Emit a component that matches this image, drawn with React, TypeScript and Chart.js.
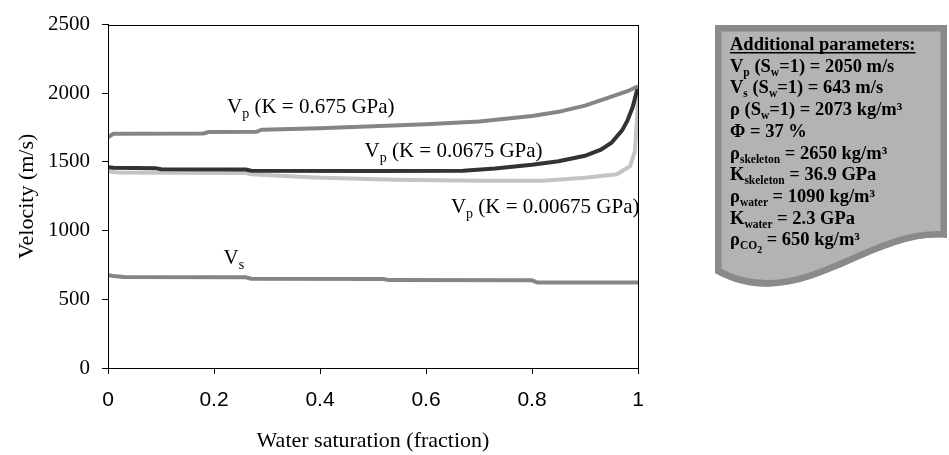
import React, { useEffect, useRef } from "react";
import { Chart, registerables } from "chart.js";

Chart.register(...registerables);

// ---- data (water saturation fraction, velocity m/s) ----
const swVpK0675 = [0, 0.01, 0.18, 0.19, 0.28, 0.29, 0.4, 0.5, 0.6, 0.7, 0.8, 0.85, 0.9, 0.95, 0.98, 1];
const vpK0675 = [1680, 1705, 1707, 1718, 1720, 1735, 1745, 1760, 1775, 1795, 1835, 1865, 1910, 1975, 2015, 2050];

const swVpK00675 = [0, 0.01, 0.09, 0.1, 0.26, 0.27, 0.5, 0.67, 0.73, 0.8, 0.85, 0.9, 0.93, 0.95, 0.97, 0.98, 0.99, 1];
const vpK00675 = [1462, 1458, 1455, 1447, 1445, 1436, 1435, 1436, 1452, 1480, 1505, 1545, 1590, 1640, 1730, 1800, 1900, 2050];

const swVpK000675 = [0, 0.02, 0.1, 0.26, 0.27, 0.39, 0.54, 0.7, 0.82, 0.9, 0.96, 0.985, 0.994, 0.999, 1];
const vpK000675 = [1430, 1424, 1422, 1420, 1410, 1387, 1370, 1363, 1363, 1385, 1410, 1470, 1576, 1861, 2050];

const swVs = [0, 0.01, 0.03, 0.26, 0.27, 0.52, 0.53, 0.8, 0.81, 1];
const vs = [675, 670, 662, 660, 650, 648, 640, 638, 622, 622];

const yTicks = [0, 500, 1000, 1500, 2000, 2500];
const xTicks = [0, 0.2, 0.4, 0.6, 0.8, 1];

// curve labels (anchored in data coordinates)
const labelSub = ["p", "p", "p", "s"];
const labelRest = [" (K = 0.675 GPa)", " (K = 0.0675 GPa)", " (K = 0.00675 GPa)", ""];
const labelSw = [0.2245, 0.484, 0.647, 0.218];
const labelVel = [1859, 1538, 1132, 755];

// parameter box text: [text, kind] where n = normal, s = subscript, ss = sub-subscript
const paramTitle = "Additional parameters:";
const paramLines: [string, string][][] = [
  [["V", "n"], ["p", "s"], [" (S", "n"], ["w", "s"], ["=1) = 2050 m/s", "n"]],
  [["V", "n"], ["s", "s"], [" (S", "n"], ["w", "s"], ["=1) = 643 m/s", "n"]],
  [["ρ (S", "n"], ["w", "s"], ["=1) = 2073 kg/m³", "n"]],
  [["Φ = 37 %", "n"]],
  [["ρ", "n"], ["skeleton", "s"], [" = 2650 kg/m³", "n"]],
  [["K", "n"], ["skeleton", "s"], [" = 36.9 GPa", "n"]],
  [["ρ", "n"], ["water", "s"], [" = 1090 kg/m³", "n"]],
  [["K", "n"], ["water", "s"], [" = 2.3 GPa", "n"]],
  [["ρ", "n"], ["CO", "s"], ["2", "ss"], [" = 650 kg/m³", "n"]],
];

const SERIF = "'Liberation Serif', 'Times New Roman', serif";
const SANS = "'Liberation Sans', Arial, sans-serif";

function drawRich(
  ctx: CanvasRenderingContext2D,
  x: number,
  y: number,
  segs: [string, string][],
  size: number,
  subSize: number,
  subDy: number,
  weight: string
) {
  let cx = x;
  for (const [t, k] of segs) {
    let sz = size;
    let dy = 0;
    if (k === "s") {
      sz = subSize;
      dy = subDy;
    } else if (k === "ss") {
      sz = subSize * 0.85;
      dy = subDy + 4;
    }
    ctx.font = `${weight} ${sz}px ${SERIF}`;
    ctx.fillText(t, cx, y + dy);
    cx += ctx.measureText(t).width;
  }
  return cx;
}

const overlayPlugin = {
  id: "overlay",
  afterDraw(chart: any) {
    const { ctx, chartArea: a, scales } = chart;
    ctx.save();
    // plot frame
    ctx.strokeStyle = "#000";
    ctx.lineWidth = 1;
    ctx.strokeRect(Math.round(a.left) + 0.5, Math.round(a.top) + 0.5, Math.round(a.right - a.left), Math.round(a.bottom - a.top));

    // curve labels
    ctx.fillStyle = "#000";
    ctx.textBaseline = "alphabetic";
    ctx.textAlign = "left";
    for (let i = 0; i < labelSub.length; i++) {
      const px = scales.x.getPixelForValue(labelSw[i]);
      const py = scales.y.getPixelForValue(labelVel[i]);
      drawRich(ctx, px, py, [["V", "n"], [labelSub[i], "s"], [labelRest[i], "n"]], 21, 14, 5, "normal");
    }

    // parameter box (document shape)
    const L = 715, T = 25, R = 947, RB = 238, LB = 273;
    ctx.beginPath();
    ctx.moveTo(L, T);
    ctx.lineTo(R, T);
    ctx.lineTo(R, RB);
    ctx.bezierCurveTo(870, 230, 800, 320, L, LB);
    ctx.closePath();
    ctx.fillStyle = "#b3b3b3";
    ctx.fill();
    ctx.save();
    ctx.clip();
    ctx.lineWidth = 13;
    ctx.strokeStyle = "#8a8a8a";
    ctx.stroke();
    ctx.restore();

    ctx.fillStyle = "#000";
    const tx = 730;
    let ty = 50;
    ctx.font = `bold 18.5px ${SERIF}`;
    ctx.fillText(paramTitle, tx, ty);
    const w = ctx.measureText(paramTitle).width;
    ctx.fillRect(tx, ty + 2, w, 1.5);
    for (const line of paramLines) {
      ty += 21.7;
      drawRich(ctx, tx, ty, line, 18.5, 11.5, 4, "bold");
    }
    ctx.restore();
  },
};

export default function App() {
  const ref = useRef<HTMLCanvasElement | null>(null);
  useEffect(() => {
    if (!ref.current) return;
    const mk = (sw: number[], v: number[]) => sw.map((x, i) => ({ x, y: v[i] }));
    const chart = new Chart(ref.current, {
      type: "scatter",
      data: {
        datasets: [
          { label: "Vs", data: mk(swVs, vs), borderColor: "#858585" },
          { label: "Vp K=0.675", data: mk(swVpK0675, vpK0675), borderColor: "#858585" },
          { label: "Vp K=0.0675", data: mk(swVpK00675, vpK00675), borderColor: "#333333" },
          { label: "Vp K=0.00675", data: mk(swVpK000675, vpK000675), borderColor: "#c4c4c4" },
        ].map((d) => ({ ...d, showLine: true, pointRadius: 0, borderWidth: 4, tension: 0, fill: false })),
      },
      options: {
        animation: false,
        responsive: true,
        maintainAspectRatio: false,
        layout: { padding: { left: 0, top: 17, right: 311, bottom: 0 } },
        plugins: { legend: { display: false }, tooltip: { enabled: false } },
        scales: {
          x: {
            type: "linear",
            min: 0,
            max: 1,
            afterFit: (s: any) => {
              s.height = 87;
            },
            afterBuildTicks: (s: any) => {
              s.ticks = xTicks.map((value) => ({ value }));
            },
            ticks: {
              color: "#000",
              font: { family: SANS, size: 21 },
              padding: 14,
              maxRotation: 0,
              callback: (v: any) => String(Math.round(Number(v) * 10) / 10),
            },
            grid: { drawOnChartArea: false, drawTicks: true, tickLength: 6, color: "#000" },
            border: { color: "#000" },
            title: {
              display: true,
              text: "Water saturation (fraction)",
              color: "#000",
              font: { family: SERIF, size: 22 },
              padding: { top: 0, bottom: 1 },
            },
          },
          y: {
            type: "linear",
            min: 0,
            max: 2500,
            afterFit: (s: any) => {
              s.width = 108;
            },
            afterBuildTicks: (s: any) => {
              s.ticks = yTicks.map((value) => ({ value }));
            },
            ticks: {
              color: "#000",
              font: { family: SERIF, size: 21 },
              padding: 12,
              callback: (v: any) => String(v),
            },
            grid: { drawOnChartArea: false, drawTicks: true, tickLength: 6, color: "#000" },
            border: { color: "#000" },
            title: {
              display: true,
              text: "Velocity (m/s)",
              color: "#000",
              font: { family: SERIF, size: 22 },
              padding: { top: 14, bottom: 0 },
            },
          },
        },
      },
      plugins: [overlayPlugin],
    });
    return () => chart.destroy();
  }, []);
  return (
    <div style={{ position: "absolute", left: 0, top: 0, width: 949, height: 455, background: "#fff" }}>
      <canvas ref={ref} />
    </div>
  );
}
